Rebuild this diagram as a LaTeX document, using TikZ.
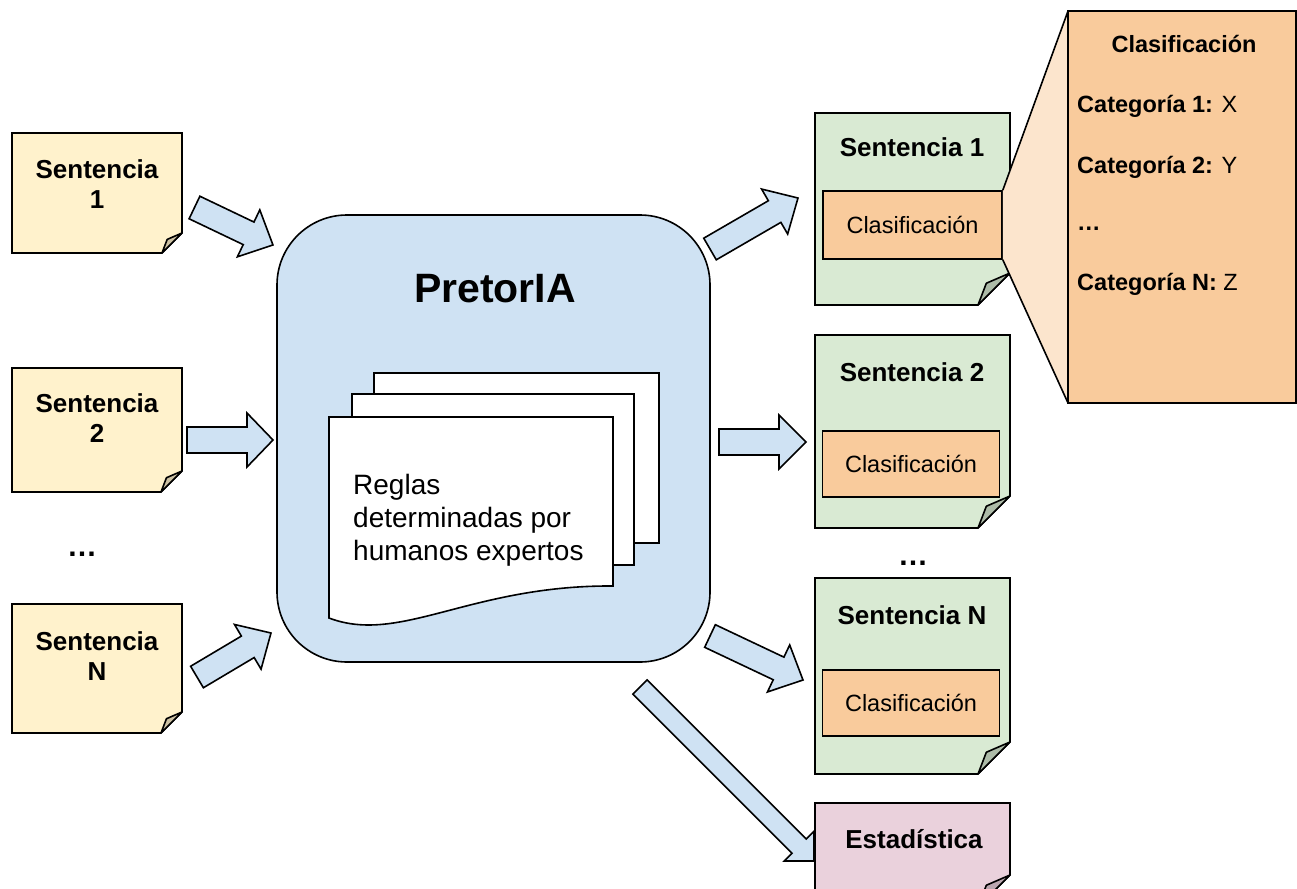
\documentclass[tikz,border=0pt]{standalone}
\usepackage{fontspec}
\setmainfont{Liberation Sans}
\usetikzlibrary{calc}
\definecolor{noteY}{HTML}{FFF2CC}
\definecolor{foldY}{HTML}{CCC1A3}
\definecolor{noteG}{HTML}{D9EAD3}
\definecolor{foldG}{HTML}{ADBBA8}
\definecolor{noteP}{HTML}{EAD1DC}
\definecolor{foldP}{HTML}{BBA7B0}
\definecolor{orng}{HTML}{F9CB9C}
\definecolor{lorng}{HTML}{FCE5CD}
\definecolor{blu}{HTML}{CFE2F3}
\newcommand\myfs[2]{\fontsize{#1}{#2}\selectfont}
\tikzset{
  bd/.style={draw=black, line width=1.6pt},
  shp/.style={inner sep=0pt, outer sep=0pt, draw=none},
  arrowst/.style={bd, fill=blu, line join=miter},
  titletxt/.style={inner sep=0pt, font=\myfs{26}{30}\bfseries, align=center},
  clstxt/.style={inner sep=0pt, font=\myfs{23.5}{28}},
  cattxt/.style={inner sep=0pt, anchor=base west, font=\myfs{23.5}{28}},
}
\newcommand\noteoutline[4]{%
  \draw[bd, fill=#2] (#1.north west) -- (#1.north east) -- ($(#1.south east)+(0,-#4)$)
    -- ($(#1.south east)+(-#4,0)$) -- (#1.south west) -- cycle;
  \draw[bd, fill=#3, line join=round] ($(#1.south east)+(-#4,0)$)
    -- ($(#1.south east)+({-0.74*#4},{-0.68*#4})$) -- ($(#1.south east)+(0,-#4)$) -- cycle;}
\newcommand\blockarrow[5]{%
  \path let \p1=($(#2)-(#1)$) in \pgfextra{%
    \pgfmathsetmacro\arrangtmp{atan2(\y1,\x1)}\global\let\arrang\arrangtmp
    \pgfmathsetmacro\arrlentmp{veclen(\x1,\y1)}\global\let\arrlen\arrlentmp};
  \begin{scope}[shift={(#1)}, rotate=\arrang]
    \draw[arrowst] (0,-#3) -- (\arrlen-#5,-#3) -- (\arrlen-#5,-#4) -- (\arrlen,0)
      -- (\arrlen-#5,#4) -- (\arrlen-#5,#3) -- (0,#3) -- cycle;
  \end{scope}}
\begin{document}
\begin{tikzpicture}[x=1pt,y=-1pt]
\path[use as bounding box] (0,0) rectangle (1297,888);
\clip (0,0) rectangle (1297,888);

% ---------- input notes ----------
\node[shp, minimum width=170, minimum height=120] (n1) at (97,193) {};
\noteoutline{n1}{noteY}{foldY}{20}
\node[titletxt] (t1) at (97,184.5) {Sentencia\\1};

\node[shp, minimum width=170, minimum height=124] (n2) at (97,430) {};
\noteoutline{n2}{noteY}{foldY}{21}
\node[titletxt] (t2) at (97,418) {Sentencia\\2};

\node[titletxt, anchor=base, font=\myfs{30}{34}\bfseries] (ldots) at (82,556) {…};

\node[shp, minimum width=170, minimum height=129] (nN) at (97,668.5) {};
\noteoutline{nN}{noteY}{foldY}{21}
\node[titletxt] (tN) at (97,656) {Sentencia\\N};

% ---------- PretorIA ----------
\node[bd, fill=blu, rounded corners=70, minimum width=433, minimum height=447] (pia) at (493.5,438.5) {};
\node[inner sep=0pt, anchor=base, font=\myfs{41}{48}\bfseries] (ptitle) at (495,302) {PretorIA};

\node[bd, fill=white, minimum width=285, minimum height=170, inner sep=0pt] (pg3) at (516.5,458) {};
\node[bd, fill=white, minimum width=282, minimum height=171, inner sep=0pt] (pg2) at (493,479.5) {};
\draw[bd, fill=white] (329,417) -- (613,417) -- (613,586)
  .. controls (470,585) and (400,645) .. (329,618) -- cycle;
\node[anchor=north west, align=left, inner sep=0pt, font=\myfs{28}{33}] (reglas) at (353,474)
  {Reglas\\determinadas por\\humanos expertos};

% ---------- output notes ----------
\node[shp, minimum width=195, minimum height=192] (g1) at (912.5,209) {};
\noteoutline{g1}{noteG}{foldG}{32}
\node[titletxt, anchor=base] (g1t) at (912,156) {Sentencia 1};
\node[bd, fill=orng, minimum width=179, minimum height=68, inner sep=0pt] (c1) at (912.5,225) {};
\node[clstxt] (c1t) at (c1) {Clasificación};

\node[shp, minimum width=195, minimum height=193] (g2) at (912.5,431.5) {};
\noteoutline{g2}{noteG}{foldG}{32}
\node[titletxt, anchor=base] (g2t) at (912,381) {Sentencia 2};
\node[bd, fill=orng, minimum width=177, minimum height=66, inner sep=0pt] (c2) at (911,464) {};
\node[clstxt] (c2t) at (c2) {Clasificación};

\node[titletxt, anchor=base, font=\myfs{30}{34}\bfseries] (rdots) at (913,565) {…};

\node[shp, minimum width=195, minimum height=196] (gN) at (912.5,676) {};
\noteoutline{gN}{noteG}{foldG}{32}
\node[titletxt, anchor=base] (gNt) at (912,624) {Sentencia N};
\node[bd, fill=orng, minimum width=177, minimum height=66, inner sep=0pt] (cN) at (911,703) {};
\node[clstxt] (cNt) at (cN) {Clasificación};

\node[shp, minimum width=195, minimum height=104] (est) at (912.5,855) {};
\noteoutline{est}{noteP}{foldP}{32}
\node[titletxt, anchor=base] (estt) at (914,848) {Estadística};

% ---------- callout ----------
\node[shp, minimum width=228, minimum height=392] (det) at (1182,207) {};
\fill[lorng] (c1.north east) -- (det.north west) -- (det.south west) -- (c1.south east) -- cycle;
\draw[bd] (c1.north east) -- (det.north west);
\draw[bd] (c1.south east) -- (det.south west);
\node[bd, fill=orng, minimum width=228, minimum height=392] (detbox) at (det) {};
\node[inner sep=0pt, anchor=base, font=\myfs{23.5}{28}\bfseries] (dtitle) at (1184,53) {Clasificación};
\node[cattxt] (dc1) at (1077,113) {\textbf{Categoría 1:} X};
\node[cattxt] (dc2) at (1077,173) {\textbf{Categoría 2:} Y};
\node[cattxt] (ddots) at (1077,230) {\textbf{…}};
\node[cattxt] (dcN) at (1077,290) {\textbf{Categoría N:} Z};

% ---------- block arrows ----------
\coordinate (a1s) at (194.5,207.5); \coordinate (a1e) at (273,245);
\coordinate (a2s) at (187,440);     \coordinate (a2e) at (273,440);
\coordinate (a3s) at (197,677);     \coordinate (a3e) at (271,633);
\coordinate (a4s) at (710,249);     \coordinate (a4e) at (798,198);
\coordinate (a5s) at (719,442);     \coordinate (a5e) at (806,442);
\coordinate (a6s) at (710,636);     \coordinate (a6e) at (803,680);
\coordinate (a7s) at (640,687);     \coordinate (a7e) at (814,861);
\blockarrow{a1s}{a1e}{12.5}{26}{27}
\blockarrow{a2s}{a2e}{13}{27}{26}
\blockarrow{a3s}{a3e}{12.5}{26}{27}
\blockarrow{a4s}{a4e}{12.5}{26}{27}
\blockarrow{a5s}{a5e}{13}{27}{27}
\blockarrow{a6s}{a6e}{12.5}{26}{27}
\blockarrow{a7s}{a7e}{10}{21}{21}
\end{tikzpicture}
\end{document}
